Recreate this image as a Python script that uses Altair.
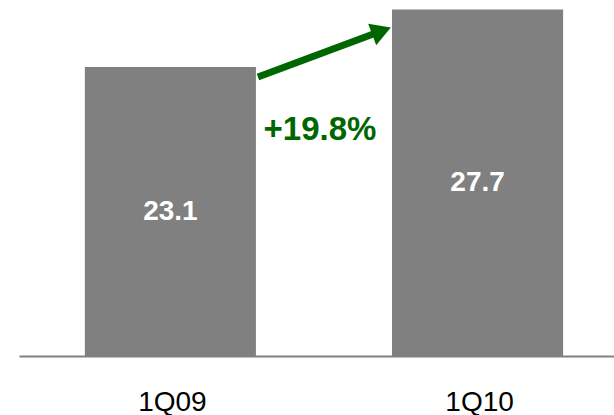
import altair as alt
import pandas as pd

quarters = ["1Q09", "1Q10"]
values = [23.1, 27.7]
growth_label = "+19.8%"

GREEN = "#006600"
GRAY = "#808080"
FONT = "Liberation Sans"

bars_df = pd.DataFrame({"cat": quarters, "value": values})
bars_df["mid"] = bars_df["value"] / 2
bars_df["label"] = [f"{v:.1f}" for v in values]

# annotation: arrow from first bar to second bar, and the growth label
arrow_df = pd.DataFrame({
    "cat": [quarters[0]],
    "cat2": [quarters[1]],
    "y1": [values[0] - 0.8],
    "y2": [values[1] - 1.82],
})
head_df = pd.DataFrame({"cat": [quarters[1]], "yh": [values[1] - 1.72]})
text_df = pd.DataFrame({"cat": [quarters[0]], "yt": [values[0] - 5.05], "t": [growth_label]})

xscale = alt.Scale(domain=quarters, paddingInner=0.443, paddingOuter=0.19, align=0.564)
yscale = alt.Scale(domain=[0, 28.46], nice=False, zero=True)

bars = alt.Chart(bars_df).mark_bar(color=GRAY).encode(
    x=alt.X("cat:N", scale=xscale, sort=quarters, title=None,
            axis=alt.Axis(labelAngle=0, labelFont=FONT, labelFontSize=28,
                          labelColor="black", labelBaseline="alphabetic",
                          labelPadding=54, ticks=False, tickSize=0,
                          domainColor=GRAY, domainWidth=2, grid=False,
                          labelOffset=2)),
    y=alt.Y("value:Q", scale=yscale, axis=None),
)

bar_labels = alt.Chart(bars_df).mark_text(
    color="white", font=FONT, fontSize=28, fontWeight="bold", baseline="middle"
).encode(
    x=alt.X("cat:N", scale=xscale, sort=quarters, title=None),
    y=alt.Y("mid:Q", scale=yscale, axis=None),
    text="label:N",
)

arrow = alt.Chart(arrow_df).mark_rule(
    color=GREEN, strokeWidth=7, xOffset=2, x2Offset=-14
).encode(
    x=alt.X("cat:N", scale=xscale, bandPosition=1, title=None),
    x2=alt.X2("cat2:N", bandPosition=0),
    y=alt.Y("y1:Q", scale=yscale, axis=None),
    y2=alt.Y2("y2:Q"),
)

head = alt.Chart(head_df).mark_point(
    shape="triangle-right", filled=True, size=529, angle=339.5,
    color=GREEN, opacity=1, xOffset=-10.5
).encode(
    x=alt.X("cat:N", scale=xscale, bandPosition=0, title=None),
    y=alt.Y("yh:Q", scale=yscale, axis=None),
)

pct = alt.Chart(text_df).mark_text(
    color=GREEN, font=FONT, fontSize=33, fontWeight="bold", baseline="middle", dx=64
).encode(
    x=alt.X("cat:N", scale=xscale, bandPosition=1, title=None),
    y=alt.Y("yt:Q", scale=yscale, axis=None),
    text="t:N",
)

chart = alt.layer(bars, bar_labels, arrow, head, pct).properties(
    width=595,
    height=356,
    autosize=alt.AutoSizeParams(type="none"),
    padding={"left": 19, "top": 0, "right": 0, "bottom": 59},
    background="white",
).configure_view(stroke=None)

chart.save("out.html", embed_options={"renderer": "svg", "actions": False})
